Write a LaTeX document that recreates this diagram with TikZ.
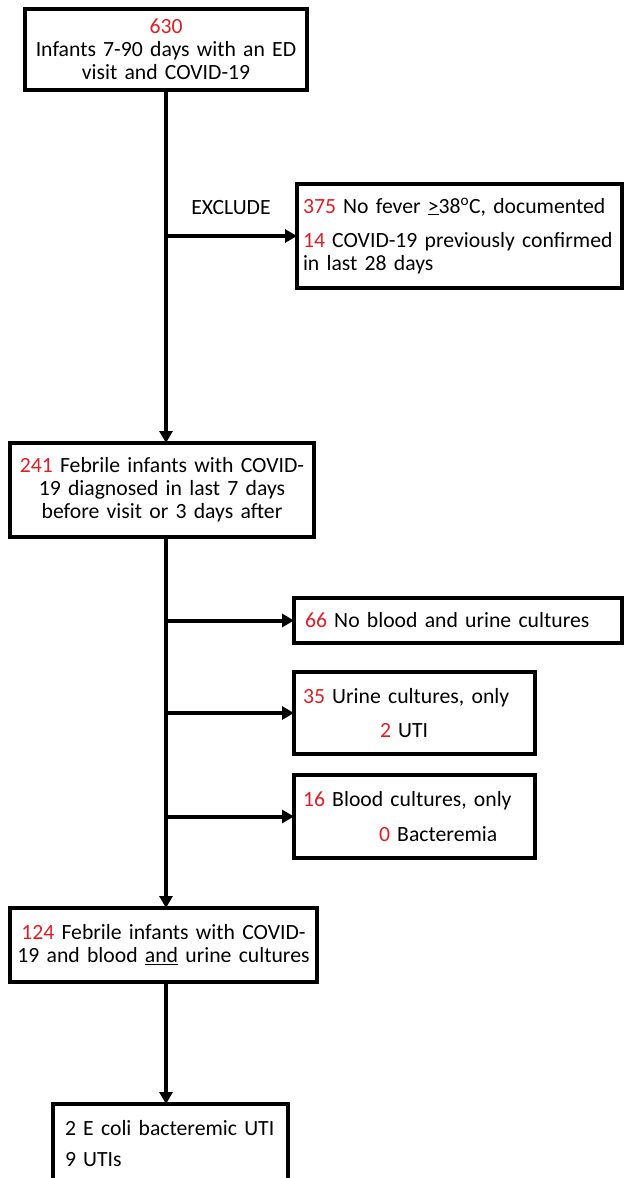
\documentclass[tikz,border=0pt]{standalone}
\usepackage{fontspec}
\setmainfont{Carlito}
\usetikzlibrary{arrows.meta}
\definecolor{numred}{RGB}{226,30,36}
\newcommand{\nr}[1]{\textcolor{numred}{#1}}
\begin{document}
\begin{tikzpicture}[x=1pt,y=-1pt,
  box/.style={draw=black, line width=3.4pt, fill=white, inner ysep=0pt, outer sep=0pt,
    font=\fontsize{21.7}{23}\selectfont},
  lbl/.style={inner sep=0pt, font=\fontsize{21.7}{23}\selectfont},
  arr/.style={line width=4pt, -{Triangle[length=12pt,width=13pt]}},
]
\useasboundingbox (0,0) rectangle (624,1178);
\clip (0,0) rectangle (624,1178);
\fill[white] (0,0) rectangle (624,1178);

\node[box, minimum width=282pt, minimum height=81pt, text width=272pt, inner xsep=5pt, align=center] (b1) at (166,49.5)
  {\nr{630}\\Infants 7-90 days with an ED\\visit and COVID-19};

\node[box, minimum width=325pt, minimum height=104pt, inner xsep=6pt, text width=313pt, align=left] (ex) at (459.5,236)
  {\nr{375} No fever \underline{>}38\textsuperscript{o}C, documented\\[11pt]\nr{14} COVID-19 previously confirmed\\in last 28 days};

\node[lbl] (exl) at (231,208) {EXCLUDE};

\node[box, minimum width=304pt, minimum height=94pt, text width=296pt, inner xsep=4pt, align=center] (b241) at (162,490)
  {\nr{241} Febrile infants with COVID-\\19 diagnosed in last 7 days\\before visit or 3 days after};

\node[box, minimum width=328pt, minimum height=45pt, inner xsep=11pt, text width=306pt, align=left] (b66) at (458,620.5)
  {\nr{66} No blood and urine cultures};

\node[box, minimum width=241pt, minimum height=82pt, inner xsep=9pt, text width=223pt, align=left] (b35) at (414.5,713)
  {\nr{35} Urine cultures, only\\[11pt]\hspace*{77pt}\nr{2} UTI};

\node[box, minimum width=241pt, minimum height=83pt, inner xsep=9pt, text width=223pt, align=left] (b16) at (414.5,816.5)
  {\nr{16} Blood cultures, only\\[12pt]\hspace*{76pt}\nr{0} Bacteremia};

\node[box, minimum width=307pt, minimum height=74pt, text width=299pt, inner xsep=4pt, align=center] (b124) at (163.5,945)
  {\nr{124} Febrile infants with COVID-\\19 and blood \underline{and} urine cultures};

\node[box, minimum width=235pt, minimum height=80pt, inner xsep=12pt, text width=211pt, align=left] (bot) at (170.5,1144)
  {2 E coli bacteremic UTI\\[8pt]9 UTIs};

\draw[arr] (b1.south) -- (b1.south |- b241.north);
\draw[arr] (b1.south |- ex.west) -- (ex.west);
\draw[arr] (b241.south -| b1.south) -- (b1.south |- b124.north);
\draw[arr] (b1.south |- b66.west) -- (b66.west);
\draw[arr] (b1.south |- b35.west) -- (b35.west);
\draw[arr] (b1.south |- b16.west) -- (b16.west);
\draw[arr] (b124.south -| b1.south) -- (b1.south |- bot.north);
\end{tikzpicture}
\end{document}
